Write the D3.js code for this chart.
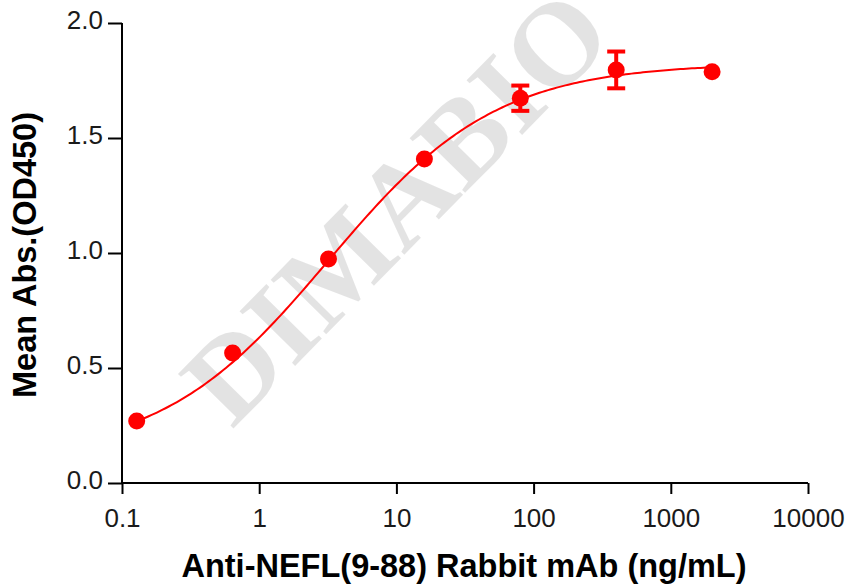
<!DOCTYPE html>
<html><head><meta charset="utf-8">
<script src="https://cdn.jsdelivr.net/npm/d3@7"></script>
<style>body{margin:0;background:#fff}svg{display:block}</style>
</head><body>
<svg id="c" width="850" height="584"></svg>
<script>
const concentrations = [0.128, 0.64, 3.2, 16, 80, 400, 2000];
const meanAbs = [0.27, 0.565, 0.974, 1.409, 1.673, 1.796, 1.788];
const errAbs = [0, 0, 0, 0, 0.055, 0.08, 0];
const xTicks = [0.1, 1, 10, 100, 1000, 10000];
const xTickLabels = ["0.1", "1", "10", "100", "1000", "10000"];
const yTicks = [0, 0.5, 1.0, 1.5, 2.0];
const yTickLabels = ["0.0", "0.5", "1.0", "1.5", "2.0"];
// 4PL fit parameters: bottom, top, EC50, hill
const fitBottom = 0.11, fitTop = 1.825, fitEC50 = 3.2, fitHill = 0.71;

const svg = d3.select("#c");
const x = d3.scaleLog().domain([0.1, 10000]).range([122, 808]);
const y = d3.scaleLinear().domain([0, 2]).range([483, 23]);
const red = "#ff0000";
const sans = "Liberation Sans, Arial, sans-serif";

// watermark (behind marks)
svg.append("text").attr("transform","translate(232,430) rotate(-45.5)")
  .style("font-family","Liberation Serif, Times New Roman, serif").style("font-weight","bold").style("font-size","119px")
  .attr("fill","#000").attr("fill-opacity",0.11).text("DIMABIO");

// axes
const xAxis = d3.axisBottom(x).tickValues(xTicks).tickFormat((d,i)=>xTickLabels[i]).tickSizeOuter(0).tickSize(11);
const yAxis = d3.axisLeft(y).tickValues(yTicks).tickFormat((d,i)=>yTickLabels[i]).tickSizeOuter(0).tickSize(14);
const gx = svg.append("g").attr("transform","translate(0,483)").call(xAxis);
const gy = svg.append("g").attr("transform","translate(122,0)").call(yAxis);
[gx, gy].forEach(g=>{
  g.select(".domain").attr("stroke","#000").attr("stroke-width",2);
  g.selectAll(".tick line").attr("stroke","#000").attr("stroke-width",2);
  g.selectAll(".tick text").attr("fill","#1a1a1a").style("font-family",sans).style("font-size","26px");
});
gx.selectAll(".tick text").attr("dy",null).attr("y",44);
gy.selectAll(".tick text").attr("dy",null).attr("y",5).attr("x",-19);
gx.select(".domain").attr("d","M122,0H808");
gy.select(".domain").attr("d","M0,483V23");

// axis titles
svg.append("text").attr("x",464).attr("y",577).attr("text-anchor","middle")
  .style("font-family",sans).style("font-weight","bold").style("font-size","32.5px")
  .attr("fill","#000").text("Anti-NEFL(9-88) Rabbit mAb (ng/mL)");
svg.append("text").attr("transform","translate(36,255) rotate(-90)").attr("text-anchor","middle")
  .style("font-family",sans).style("font-weight","bold").style("font-size","32.5px")
  .attr("fill","#000").text("Mean Abs.(OD450)");

// fitted curve
const fit = xv => fitTop + (fitBottom - fitTop) / (1 + Math.pow(xv / fitEC50, fitHill));
const lx0 = Math.log10(concentrations[0]), lx1 = Math.log10(concentrations[concentrations.length-1]);
const curvePts = d3.range(0, 201).map(i => Math.pow(10, lx0 + (lx1 - lx0) * i / 200));
svg.append("path").datum(curvePts)
  .attr("d", d3.line().x(d=>x(d)).y(d=>y(fit(d))))
  .attr("fill","none").attr("stroke",red).attr("stroke-width",2);

// error bars
const data = concentrations.map((c,i)=>({c, m: meanAbs[i], e: errAbs[i]}));
const eb = svg.append("g").selectAll("g").data(data.filter(d=>d.e>0)).join("g");
eb.append("line").attr("x1",d=>x(d.c)).attr("x2",d=>x(d.c)).attr("y1",d=>y(d.m-d.e)).attr("y2",d=>y(d.m+d.e))
  .attr("stroke",red).attr("stroke-width",4);
eb.append("line").attr("x1",d=>x(d.c)-9).attr("x2",d=>x(d.c)+9).attr("y1",d=>y(d.m+d.e)).attr("y2",d=>y(d.m+d.e))
  .attr("stroke",red).attr("stroke-width",4);
eb.append("line").attr("x1",d=>x(d.c)-9).attr("x2",d=>x(d.c)+9).attr("y1",d=>y(d.m-d.e)).attr("y2",d=>y(d.m-d.e))
  .attr("stroke",red).attr("stroke-width",4);

// points
svg.append("g").selectAll("circle").data(data).join("circle")
  .attr("cx",d=>x(d.c)).attr("cy",d=>y(d.m)).attr("r",8.5).attr("fill",red);
</script>
</body></html>
